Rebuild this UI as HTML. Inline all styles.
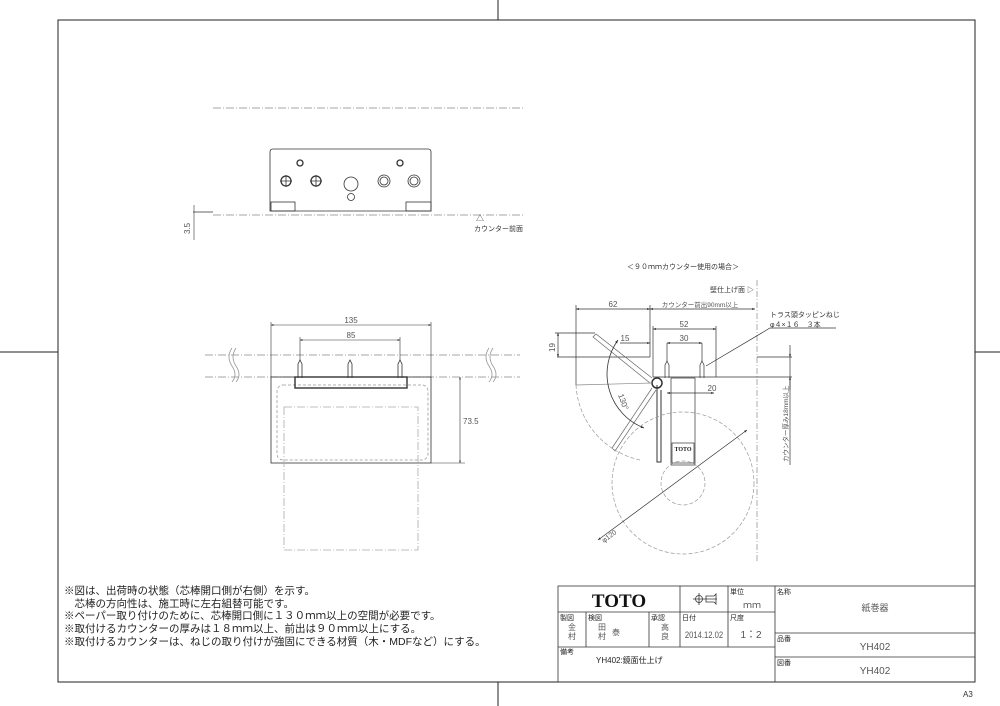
<!DOCTYPE html>
<html><head><meta charset="utf-8"><style>
html,body{margin:0;padding:0;background:#fff;}
svg{display:block;font-family:"Liberation Sans","Noto Sans CJK JP",sans-serif;}
.t{fill:#555;}
</style></head><body>
<svg width="1000" height="706" viewBox="0 0 1000 706" xmlns="http://www.w3.org/2000/svg">
<defs>
<marker id="a" viewBox="0 0 10 10" refX="10" refY="5" markerWidth="6" markerHeight="4" orient="auto-start-reverse"><path d="M0,1 L10,5 L0,9z" fill="#333"/></marker>
</defs>
<g stroke="#222" fill="none" stroke-width="1">
<rect x="58" y="20" width="917" height="662"/>
<line x1="498" y1="0" x2="498" y2="20"/><line x1="498" y1="682" x2="498" y2="706"/>
<line x1="0" y1="352" x2="58" y2="352"/><line x1="975" y1="352" x2="1000" y2="352"/>
</g>
<text x="963" y="697" font-size="8" fill="#333">A3</text>

<!-- top view -->
<g fill="none" stroke="#333" stroke-width="0.8">
<line x1="213" y1="108" x2="525" y2="108" stroke="#888" stroke-dasharray="8,2,1,2"/>
<path d="M273,149 H428 Q431,149 431,152 V211 H270 V152 Q270,149 273,149Z"/>
<rect x="271" y="202" width="24" height="9"/><rect x="406" y="202" width="25" height="9"/>
<circle cx="300" cy="163" r="3" stroke-width="1.3"/><circle cx="400" cy="163" r="3" stroke-width="1.3"/>
<circle cx="286" cy="181" r="5" stroke-width="1.3"/><path d="M280,181h12M286,175v12"/>
<circle cx="316" cy="181" r="5" stroke-width="1.3"/><path d="M310,181h12M316,175v12"/>
<circle cx="351" cy="184" r="7"/><circle cx="351" cy="197" r="3.5"/>
<circle cx="384" cy="181" r="6"/><circle cx="384" cy="181" r="4"/>
<circle cx="414" cy="181" r="6"/><circle cx="414" cy="181" r="4"/>
<line x1="193" y1="212" x2="213" y2="212"/>
<line x1="213" y1="215" x2="525" y2="215" stroke="#888" stroke-dasharray="8,2,1,2"/>
<line x1="194" y1="205" x2="194" y2="240" stroke-width="0.6"/>
</g>
<text x="0" y="0" font-size="8" class="t" transform="translate(190,234) rotate(-90)">3.5</text>
<text x="476" y="221" font-size="8" fill="#333">△</text>
<text x="474" y="231" font-size="7" fill="#333">カウンター前面</text>

<!-- front view -->
<g fill="none" stroke="#333" stroke-width="0.8">
<line x1="205" y1="355" x2="520" y2="355" stroke="#888" stroke-dasharray="8,2,1,2"/>
<line x1="205" y1="377" x2="520" y2="377" stroke="#888" stroke-dasharray="8,2,1,2"/>
<path d="M232,348 q-6,9 0,18 q6,9 0,16 M236,348 q-6,9 0,18 q6,9 0,16" stroke="#999"/>
<path d="M489,348 q-6,9 0,18 q6,9 0,16 M493,348 q-6,9 0,18 q6,9 0,16" stroke="#999"/>
<rect x="271" y="377" width="160" height="86"/>
<rect x="277" y="385" width="151" height="75" rx="6" stroke="#999" stroke-dasharray="3,2"/>
<rect x="284" y="407" width="134" height="143" stroke="#aaa" stroke-dasharray="8,2,1,2"/>
<rect x="295" y="377" width="112" height="11" stroke-width="1.4"/>
<path d="M298,378 V364 L300,360 L302,364 V378 M348,378 V364 L350,360 L352,364 V378 M398,378 V364 L400,360 L402,364 V378"/>
<line x1="271" y1="322" x2="271" y2="377" stroke-width="0.6"/><line x1="431" y1="322" x2="431" y2="377" stroke-width="0.6"/>
<line x1="271" y1="325" x2="431" y2="325" marker-start="url(#a)" marker-end="url(#a)" stroke-width="0.6"/>
<line x1="300" y1="337" x2="300" y2="360" stroke-width="0.6"/><line x1="400" y1="337" x2="400" y2="360" stroke-width="0.6"/>
<line x1="300" y1="340" x2="400" y2="340" marker-start="url(#a)" marker-end="url(#a)" stroke-width="0.6"/>
<line x1="431" y1="463" x2="465" y2="463" stroke-width="0.6"/>
<line x1="460" y1="377" x2="460" y2="463" marker-start="url(#a)" marker-end="url(#a)" stroke-width="0.6"/>
</g>
<text x="351" y="323" font-size="8" class="t" text-anchor="middle">135</text>
<text x="351" y="338" font-size="8" class="t" text-anchor="middle">85</text>
<text x="463" y="424" font-size="8" class="t">73.5</text>

<!-- right view -->
<text x="683" y="269" font-size="7" fill="#333" text-anchor="middle">＜９０ｍｍカウンター使用の場合＞</text>
<text x="754" y="292" font-size="7" fill="#333" text-anchor="end">壁仕上げ面 ▷</text>
<g fill="none" stroke="#333" stroke-width="0.7">
<line x1="757" y1="280" x2="757" y2="562" stroke="#888" stroke-dasharray="6,2,1,2"/>
<line x1="576" y1="305" x2="576" y2="385"/>
<line x1="650" y1="305" x2="650" y2="357"/>
<line x1="576" y1="309" x2="650" y2="309" marker-start="url(#a)" marker-end="url(#a)"/>
<line x1="650" y1="309" x2="755" y2="309" marker-start="url(#a)" marker-end="url(#a)"/>
<line x1="557" y1="357" x2="650" y2="357"/><line x1="757" y1="357" x2="792" y2="357"/>
<line x1="653" y1="377" x2="792" y2="377"/>
<line x1="653" y1="326" x2="653" y2="377"/><line x1="716" y1="326" x2="716" y2="377"/>
<line x1="653" y1="329" x2="716" y2="329" marker-start="url(#a)" marker-end="url(#a)"/>
<line x1="667" y1="343" x2="702" y2="343" marker-start="url(#a)" marker-end="url(#a)"/>
<line x1="620" y1="343" x2="650" y2="343" marker-end="url(#a)"/>
<line x1="555" y1="333" x2="595" y2="333"/>
<line x1="558" y1="333" x2="558" y2="357" marker-start="url(#a)" marker-end="url(#a)"/>
<line x1="667" y1="343" x2="667" y2="362"/><line x1="702" y1="343" x2="702" y2="362"/>
<path d="M665,378 V365 L667,361 L669,365 V378 M700,378 V365 L702,361 L704,365 V378"/>
<line x1="667" y1="393" x2="714" y2="393" marker-start="url(#a)" marker-end="url(#a)"/>
<line x1="790" y1="345" x2="790" y2="357" marker-end="url(#a)"/>
<line x1="790" y1="390" x2="790" y2="377" marker-end="url(#a)"/>
<line x1="790" y1="357" x2="790" y2="465"/>
<rect x="671" y="378" width="24" height="87"/>
<rect x="672" y="443" width="22" height="20"/>
<path d="M657,385 V462 H661 V390" stroke-width="1"/>
<circle cx="657" cy="383" r="5" stroke-width="1.5"/>
<path d="M652,378 L596,334 L593,337 L650,383" stroke="#666"/>
<path d="M652,388 L612,448 L615,451 L656,390" stroke="#666"/>
<path d="M576,385 L652,383" stroke="#888"/>
<path d="M576,385 A81,81 0 0 0 640,460" stroke="#999" stroke-dasharray="4,2"/>
<path d="M618,340 A58,58 0 0 0 644,428" stroke-width="0.8" marker-start="url(#a)" marker-end="url(#a)"/>
<circle cx="683" cy="483" r="71" stroke="#999" stroke-dasharray="4,2"/>
<circle cx="683" cy="483" r="22" stroke="#999" stroke-dasharray="4,2"/>
<line x1="598" y1="540" x2="747" y2="430" marker-start="url(#a)" marker-end="url(#a)"/>
<path d="M706,366 L770,328 H836"/>
</g>
<text x="700" y="307" font-size="6.5" class="t" text-anchor="middle">カウンター前出90mm以上</text>
<text x="613" y="307" font-size="8" class="t" text-anchor="middle">62</text>
<text x="684" y="327" font-size="8" class="t" text-anchor="middle">52</text>
<text x="684" y="341" font-size="8" class="t" text-anchor="middle">30</text>
<text x="625" y="341" font-size="8" class="t" text-anchor="middle">15</text>
<text x="712" y="391" font-size="8" class="t" text-anchor="middle">20</text>
<text x="0" y="0" font-size="8" class="t" transform="translate(555,352) rotate(-90)">19</text>
<text x="0" y="0" font-size="8" class="t" transform="translate(618,395) rotate(70)">130°</text>
<text x="0" y="0" font-size="7" class="t" transform="translate(604,543) rotate(-37)">φ120</text>
<text x="0" y="0" font-size="6.5" class="t" transform="translate(788,462) rotate(-90)">カウンター厚み18mm以上</text>
<text x="683" y="451" font-size="6" font-weight="bold" font-family="Liberation Serif,serif" text-anchor="middle" fill="#222">TOTO</text>
<text x="770" y="317" font-size="7" fill="#333">トラス頭タッピンねじ</text>
<text x="770" y="327" font-size="7" fill="#333">φ４×１６　３本</text>

<!-- notes -->
<g font-size="10.5" fill="#222">
<text x="64" y="594">※図は、出荷時の状態（芯棒開口側が右側）を示す。</text>
<text x="64" y="607">　芯棒の方向性は、施工時に左右組替可能です。</text>
<text x="64" y="619">※ペーパー取り付けのために、芯棒開口側に１３０ｍｍ以上の空間が必要です。</text>
<text x="64" y="632">※取付けるカウンターの厚みは１８ｍｍ以上、前出は９０ｍｍ以上にする。</text>
<text x="64" y="645">※取付けるカウンターは、ねじの取り付けが強固にできる材質（木・MDFなど）にする。</text>
</g>

<!-- title block -->
<g fill="none" stroke="#333" stroke-width="0.8">
<rect x="558" y="586" width="417" height="96"/>
<line x1="680" y1="586" x2="680" y2="647"/><line x1="728" y1="586" x2="728" y2="647"/>
<line x1="775" y1="586" x2="775" y2="682"/>
<line x1="558" y1="612" x2="775" y2="612"/><line x1="558" y1="647" x2="775" y2="647"/>
<line x1="775" y1="633" x2="975" y2="633"/><line x1="775" y1="657" x2="975" y2="657"/>
<line x1="586" y1="612" x2="586" y2="647"/><line x1="649" y1="612" x2="649" y2="647"/>
<circle cx="699" cy="599" r="3.5"/><path d="M693,599h24M699,593v12M706,596h8l2,-2v10l-2,-2h-8z"/>
</g>
<text x="619" y="607" font-size="19" font-weight="bold" font-family="Liberation Serif,serif" text-anchor="middle" fill="#111">TOTO</text>
<g font-size="7" fill="#222">
<text x="730" y="594">単位</text><text x="777" y="594">名称</text>
<text x="560" y="620">製図</text><text x="588" y="620">検図</text><text x="651" y="620">承認</text>
<text x="682" y="620">日付</text><text x="730" y="620">尺度</text>
<text x="777" y="641">品番</text><text x="777" y="665">図番</text><text x="560" y="654">備考</text>
</g>
<g class="t">
<text x="752" y="608" font-size="9" text-anchor="middle">ｍｍ</text>
<text x="875" y="611" font-size="9" text-anchor="middle">紙巻器</text>
<text x="572" y="630" font-size="8" text-anchor="middle">金</text><text x="572" y="639" font-size="8" text-anchor="middle">村</text>
<text x="602" y="630" font-size="8" text-anchor="middle">田</text><text x="602" y="639" font-size="8" text-anchor="middle">村</text>
<text x="616" y="635" font-size="8" text-anchor="middle">泰</text>
<text x="665" y="630" font-size="8" text-anchor="middle">高</text><text x="665" y="639" font-size="8" text-anchor="middle">良</text>
<text x="704" y="638" font-size="9" text-anchor="middle" transform="translate(704,0) scale(0.85,1) translate(-704,0)">2014.12.02</text>
<text x="751" y="638" font-size="10" text-anchor="middle">1：2</text>
<text x="875" y="650" font-size="10" text-anchor="middle">YH402</text>
<text x="875" y="674" font-size="10" text-anchor="middle">YH402</text>
</g>
<text x="596" y="663" font-size="8" fill="#222">YH402:鏡面仕上げ</text>
</svg>
</body></html>
